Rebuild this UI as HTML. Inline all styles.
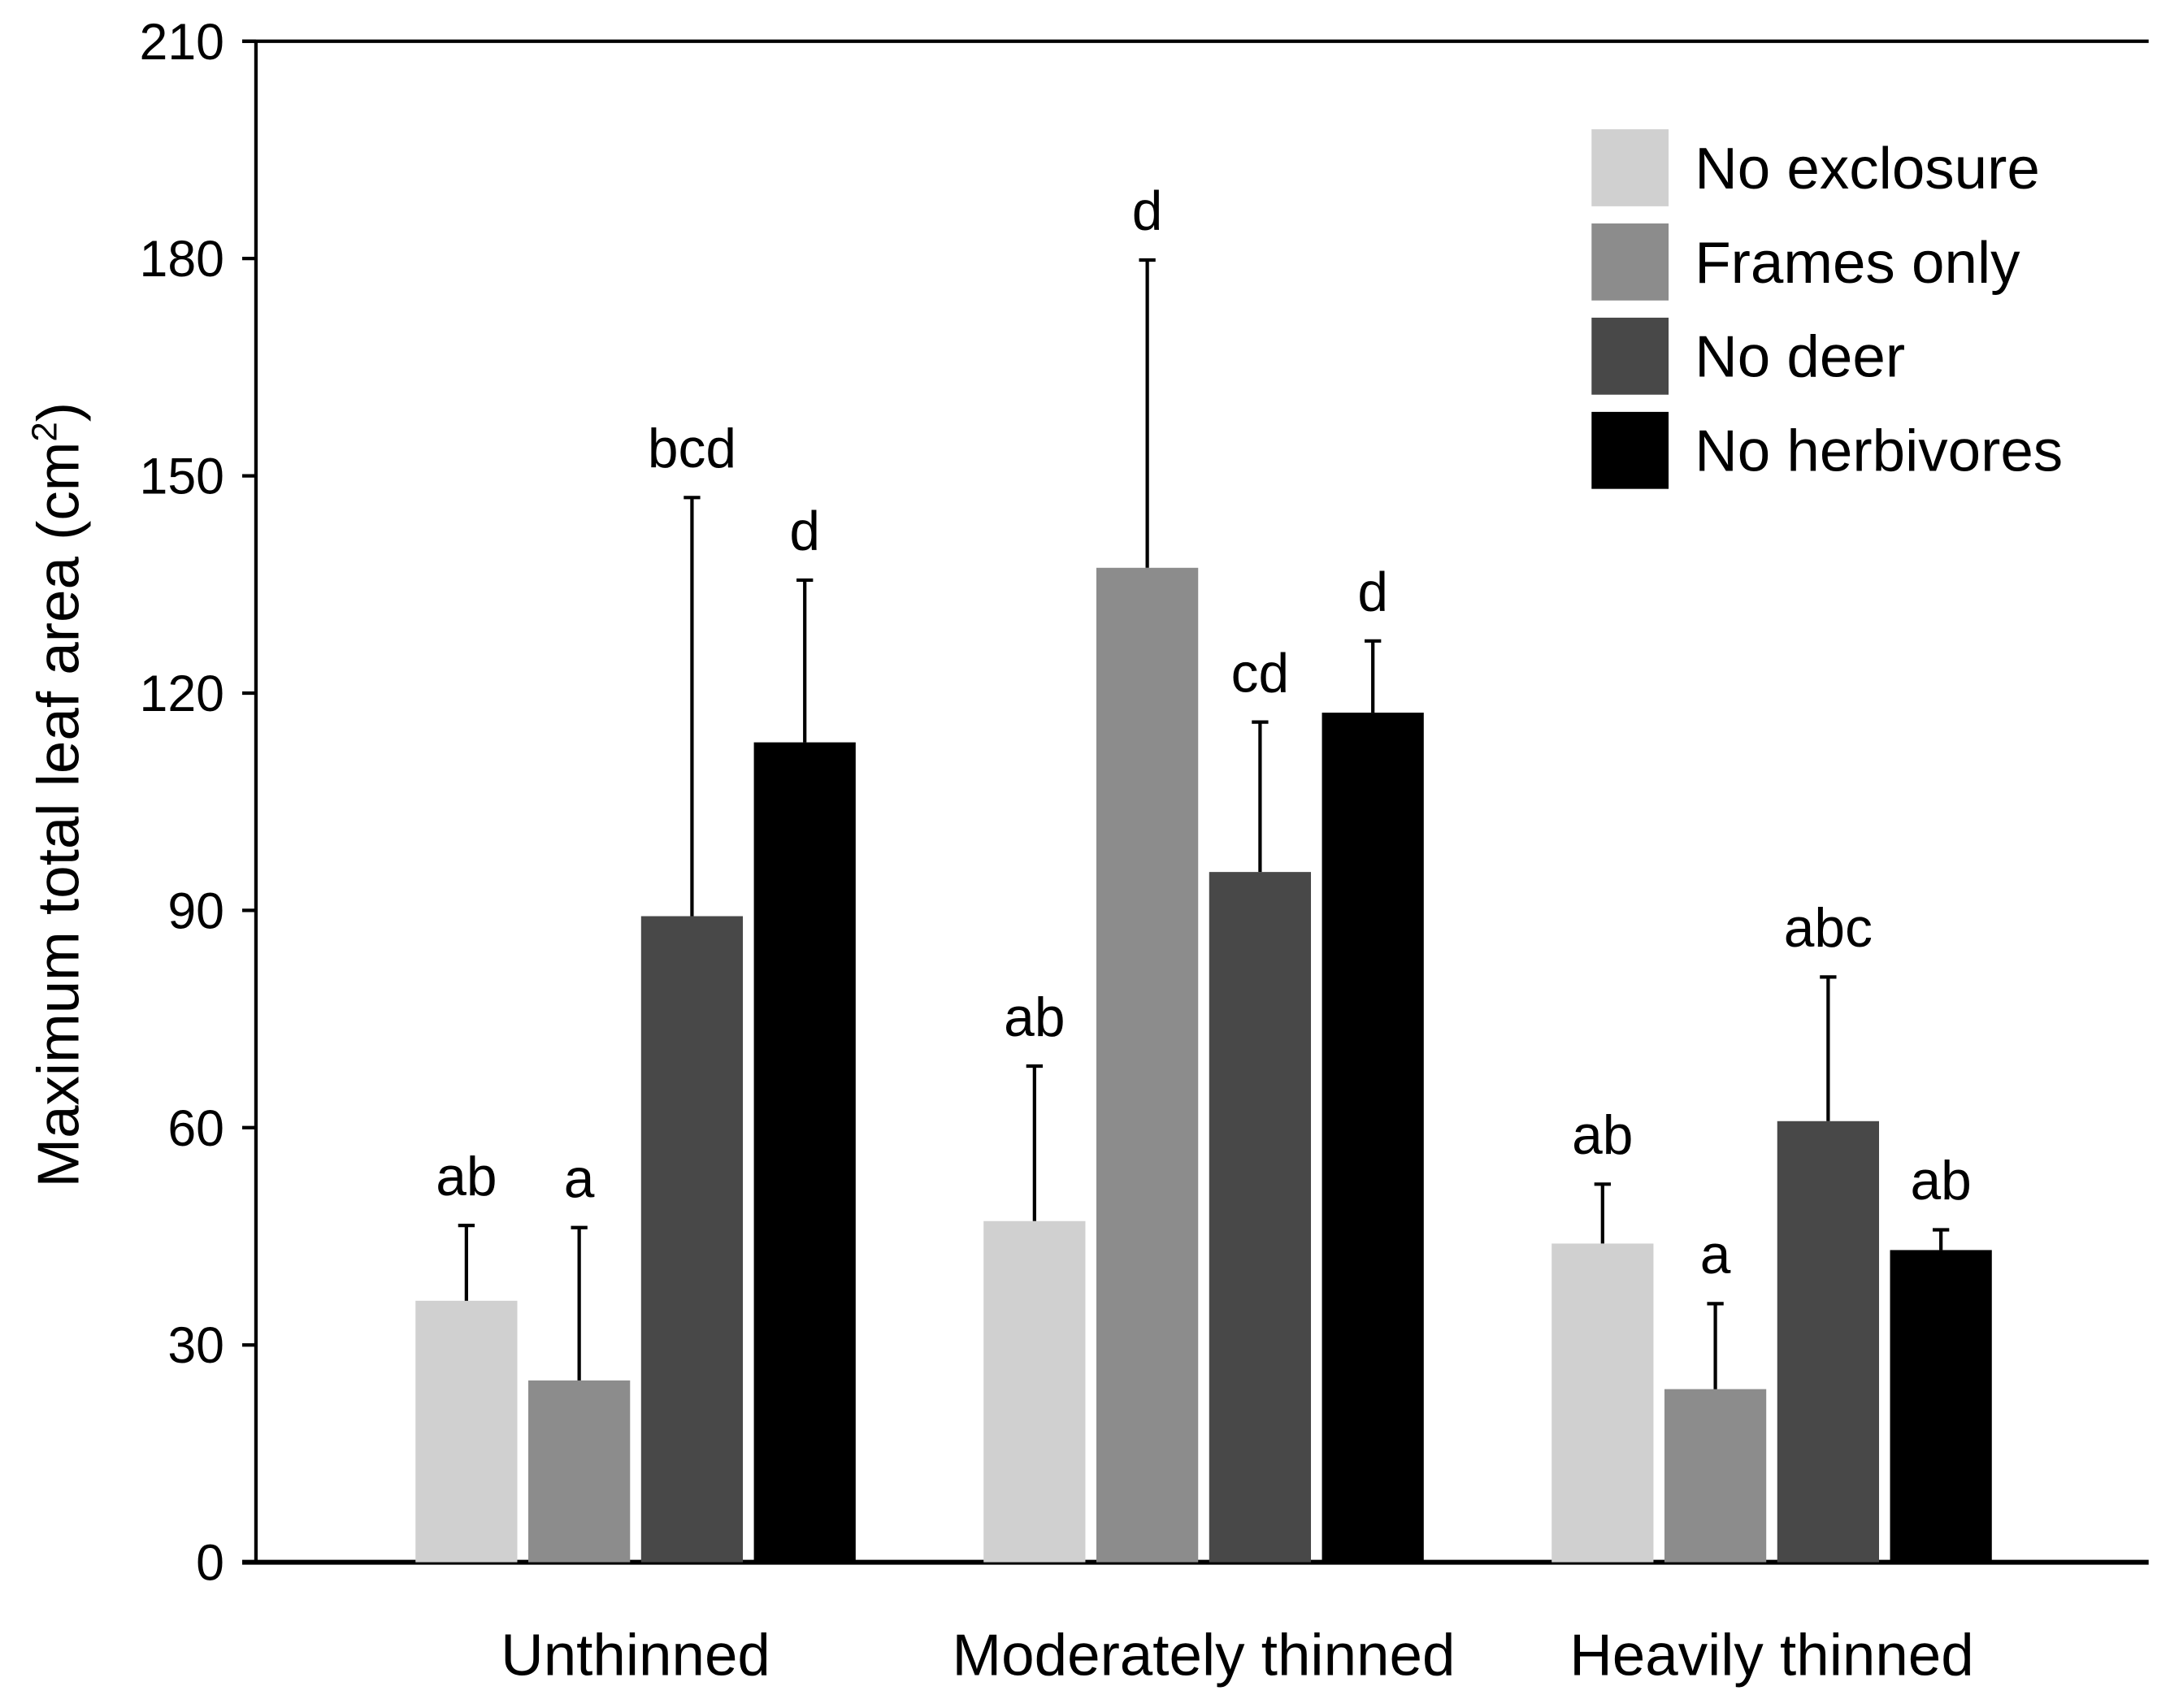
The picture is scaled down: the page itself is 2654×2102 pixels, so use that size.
<!DOCTYPE html>
<html><head><meta charset="utf-8"><style>
html,body{margin:0;padding:0;background:#fff;}
svg{display:block;font-family:"Liberation Sans",Arial,sans-serif;}
</style></head><body>
<svg id="chart" width="2654" height="2102" viewBox="0 0 1568 1242" xmlns="http://www.w3.org/2000/svg">
<rect width="1568" height="1242" fill="#fff"/>
<g id="axes"></g>
<g id="bars"></g>
<g id="legend"></g>
<text transform="translate(57,578) rotate(-90)" text-anchor="middle" font-size="43">Maximum total leaf area (cm<tspan font-size="26" dy="-16">2</tspan><tspan dy="16">)</tspan></text>
</svg>
<script>
const categories = ["Unthinned", "Moderately thinned", "Heavily thinned"];
const seriesNames = ["No exclosure", "Frames only", "No deer", "No herbivores"];
const means = [[36.1, 25.1, 89.2, 113.2],[47.1, 137.3, 95.3, 117.3],[44.0, 23.9, 60.9, 43.1]];
const errTops = [[46.5, 46.2, 147.0, 135.6],[68.5, 179.8, 116.0, 127.2],[52.2, 35.7, 80.8, 45.9]];
const letters = [["ab","a","bcd","d"],["ab","d","cd","d"],["ab","a","abc","ab"]];
const yTicks = [0, 30, 60, 90, 120, 150, 180, 210];
const colors = ["#d0d0d0", "#8c8c8c", "#484848", "#000000"];

const NS = "http://www.w3.org/2000/svg";
const x0 = 186, xEnd = 1562, yBase = 1136, yTop = 30, yMax = 210;
function yS(v){ return yBase - v/yMax*(yBase-yTop); }
function groupStart(i){ return 302 + i*413; }
const barW = 74, step = 82;
function mk(tag, attrs, parent){ const e=document.createElementNS(NS,tag); for(const k in attrs) e.setAttribute(k,attrs[k]); parent.appendChild(e); return e; }

const axes = document.getElementById("axes");
let l = mk("line",{x1:x0,y1:yTop,x2:x0,y2:yBase+1.5,stroke:"#000","stroke-width":2.5},axes);


l = mk("line",{x1:176,y1:yTop,x2:xEnd,y2:yTop,stroke:"#000","stroke-width":2.5},axes);


l = mk("line",{x1:176,y1:yBase,x2:xEnd,y2:yBase,stroke:"#000","stroke-width":3.5},axes);


yTicks.forEach(t=>{
  const y=yS(t);
  const tk=mk("line",{x1:176,y1:y,x2:x0,y2:y,stroke:"#000","stroke-width":2.5},axes);
  
  
  const tx=mk("text",{x:163,y:y+13,"text-anchor":"end","font-size":37},axes);
  tx.textContent=t;
  
  
});
categories.forEach((c,i)=>{
  const tx=mk("text",{x:groupStart(i)+(3*step+barW)/2,y:1218,"text-anchor":"middle","font-size":43},axes);
  tx.textContent=c;
  
  
});

const bars = document.getElementById("bars");
means.forEach((grp,i)=>{
  grp.forEach((v,j)=>{
    const x=groupStart(i)+j*step;
    const r=mk("rect",{x:x,y:yS(v),width:barW,height:yBase-yS(v),fill:colors[j]},bars);
    
    
    const cx=x+barW/2, ce=yS(errTops[i][j]);
    const e1=mk("line",{x1:cx,y1:yS(v),x2:cx,y2:ce,stroke:"#000","stroke-width":2.5},bars);
    
    
    const e2=mk("line",{x1:cx-6,y1:ce,x2:cx+6,y2:ce,stroke:"#000","stroke-width":2.5},bars);
    
    
    const tx=mk("text",{x:cx,y:ce-22,"text-anchor":"middle","font-size":40},bars);
    tx.textContent=letters[i][j];
    
    
  });
});

const legend = document.getElementById("legend");
seriesNames.forEach((n,j)=>{
  const y=94+j*68.5;
  const r=mk("rect",{x:1157,y:y,width:56,height:56,fill:colors[j]},legend);
  
  
  const tx=mk("text",{x:1232,y:y+43,"font-size":43},legend);
  tx.textContent=n;
  
  
});
</script>
</body></html>
